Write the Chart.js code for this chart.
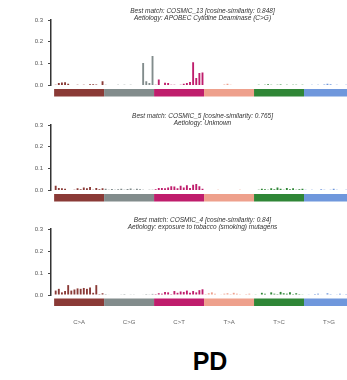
<!DOCTYPE html>
<html>
<head>
<meta charset="utf-8">
<title>PD signatures</title>
<script src="https://cdn.jsdelivr.net/npm/chart.js@4/dist/chart.umd.min.js"></script>
<style>
  html, body { margin: 0; padding: 0; background: #fff; }
  body { width: 347px; height: 380px; overflow: hidden; position: relative; font-family: "Liberation Sans", Arial, sans-serif; }
  canvas { position: absolute; left: 0; }
  #sampleName { position: absolute; left: 160px; width: 100px; top: 349px; text-align: center; font-weight: bold; font-size: 25px; line-height: 25px; color: #000; }
</style>
</head>
<body>
<canvas id="panel1" width="360" height="104" style="top:0px"></canvas>
<canvas id="panel2" width="360" height="104" style="top:105px"></canvas>
<canvas id="panel3" width="360" height="130" style="top:209px"></canvas>
<div id="sampleName">PD</div>
<script>
// substitution classes, 16 trinucleotide contexts each
const mutationTypes = ['C>A', 'C>G', 'C>T', 'T>A', 'T>C', 'T>G'];
const typeColors = ['#8a3a36', '#828c8c', '#bf1d6c', '#eea08c', '#2f8636', '#6f97dc'];
const yTicks = [0, 0.1, 0.2, 0.3];

// relative contribution per context, in order C>A .. T>G
const sig13Values = [
  0.003, 0.012, 0.014, 0.015, 0.008, 0.002, 0.000, 0.004, 0.000, 0.003, 0.000, 0.006, 0.006, 0.005, 0.002, 0.020,
  0.004, 0.000, 0.000, 0.000, 0.003, 0.000, 0.003, 0.000, 0.003, 0.000, 0.000, 0.000, 0.103, 0.020, 0.012, 0.135,
  0.004, 0.028, 0.002, 0.013, 0.012, 0.003, 0.004, 0.002, 0.003, 0.008, 0.012, 0.016, 0.107, 0.034, 0.057, 0.060,
  0.000, 0.000, 0.002, 0.000, 0.000, 0.000, 0.005, 0.008, 0.004, 0.000, 0.000, 0.000, 0.002, 0.000, 0.000, 0.000,
  0.000, 0.003, 0.000, 0.004, 0.006, 0.003, 0.000, 0.004, 0.005, 0.002, 0.004, 0.000, 0.003, 0.004, 0.000, 0.003,
  0.000, 0.002, 0.004, 0.000, 0.003, 0.000, 0.005, 0.008, 0.006, 0.000, 0.003, 0.000, 0.002, 0.004, 0.000, 0.003
];
const sig5Values = [
  0.022, 0.012, 0.010, 0.008, 0.002, 0.000, 0.004, 0.010, 0.006, 0.014, 0.010, 0.016, 0.004, 0.012, 0.006, 0.010,
  0.008, 0.004, 0.007, 0.003, 0.006, 0.008, 0.003, 0.007, 0.009, 0.004, 0.008, 0.006, 0.003, 0.002, 0.004, 0.003,
  0.006, 0.012, 0.012, 0.010, 0.014, 0.020, 0.018, 0.010, 0.022, 0.014, 0.024, 0.012, 0.026, 0.030, 0.020, 0.008,
  0.000, 0.002, 0.000, 0.000, 0.003, 0.000, 0.000, 0.002, 0.000, 0.000, 0.000, 0.003, 0.000, 0.000, 0.002, 0.000,
  0.002, 0.004, 0.008, 0.006, 0.003, 0.010, 0.006, 0.014, 0.008, 0.004, 0.012, 0.006, 0.010, 0.004, 0.006, 0.008,
  0.003, 0.002, 0.004, 0.000, 0.002, 0.006, 0.003, 0.000, 0.004, 0.008, 0.003, 0.002, 0.000, 0.003, 0.004, 0.002
];
const sig4Values = [
  0.020, 0.028, 0.012, 0.018, 0.045, 0.020, 0.025, 0.030, 0.028, 0.032, 0.028, 0.034, 0.010, 0.045, 0.004, 0.008,
  0.004, 0.002, 0.000, 0.000, 0.000, 0.003, 0.004, 0.000, 0.003, 0.003, 0.000, 0.000, 0.002, 0.004, 0.003, 0.005,
  0.004, 0.008, 0.006, 0.014, 0.012, 0.004, 0.018, 0.010, 0.016, 0.014, 0.020, 0.010, 0.018, 0.012, 0.022, 0.026,
  0.004, 0.008, 0.012, 0.006, 0.000, 0.003, 0.006, 0.008, 0.004, 0.010, 0.006, 0.003, 0.000, 0.004, 0.006, 0.002,
  0.003, 0.000, 0.010, 0.006, 0.000, 0.012, 0.006, 0.004, 0.014, 0.008, 0.006, 0.012, 0.004, 0.008, 0.004, 0.003,
  0.000, 0.003, 0.000, 0.004, 0.006, 0.002, 0.000, 0.008, 0.004, 0.000, 0.003, 0.006, 0.002, 0.004, 0.000, 0.003
];

const sig13Title = ['Best match: COSMIC_13 [cosine-similarity: 0.848]', 'Aetiology: APOBEC Cytidine Deaminase (C>G)'];
const sig5Title = ['Best match: COSMIC_5 [cosine-similarity: 0.765]', 'Aetiology: Unknown'];
const sig4Title = ['Best match: COSMIC_4 [cosine-similarity: 0.84]', 'Aetiology: exposure to tobacco (smoking) mutagens'];

const FONT = '"Liberation Sans", Arial, sans-serif';

// colour strip under the bars, titles above, class names under the last panel
const stripPlugin = {
    id: 'strip',
    afterDatasetsDraw(chart, args, opts) {
        const ctx = chart.ctx;
        const area = chart.chartArea;
        const x = chart.scales.x;
        ctx.save();
        mutationTypes.forEach((t, k) => {
            const x0 = x.getPixelForValue(k * 16 - 0.5);
            const x1 = x.getPixelForValue(k * 16 + 15.5);
            ctx.fillStyle = typeColors[k];
            ctx.fillRect(x0, area.bottom + 3.5, x1 - x0, 7.5);
            if (opts.showLabels) {
                ctx.fillStyle = '#666';
                ctx.font = '6px ' + FONT;
                ctx.textAlign = 'center';
                ctx.textBaseline = 'middle';
                ctx.fillText(t, (x0 + x1) / 2, area.bottom + 27);
            }
        });
        const cx = (area.left + area.right) / 2;
        ctx.fillStyle = '#333';
        ctx.font = 'italic 6.5px ' + FONT;
        ctx.textAlign = 'center';
        ctx.textBaseline = 'middle';
        ctx.fillText(opts.title[0], cx, area.top - 9);
        ctx.fillText(opts.title[1], cx, area.top - 1.5);
        ctx.restore();
    }
};

function drawPanel(id, values, title, bottomPad, showLabels) {
    const ctx = document.getElementById(id).getContext('2d');
    new Chart(ctx, {
        type: 'bar',
        data: {
            datasets: [{
                data: values.map((v, i) => ({ x: i, y: v })),
                backgroundColor: values.map((v, i) => typeColors[Math.floor(i / 16)]),
                barPercentage: 0.6,
                categoryPercentage: 1,
                borderWidth: 0
            }]
        },
        options: {
            responsive: false,
            animation: false,
            layout: { padding: { top: 20, bottom: bottomPad, left: 0, right: 6 } },
            plugins: {
                legend: { display: false },
                tooltip: { enabled: true },
                strip: { title: title, showLabels: showLabels }
            },
            scales: {
                x: { type: 'linear', min: -1.5, max: 95.5, offset: false, display: false },
                y: {
                    min: 0,
                    max: 0.3,
                    afterFit(scale) { scale.width = 51; },
                    afterBuildTicks(scale) { scale.ticks = yTicks.map(v => ({ value: v })); },
                    border: { display: true, color: '#333', width: 1.5 },
                    grid: { drawOnChartArea: false, drawTicks: true, tickLength: 3, color: '#444' },
                    ticks: {
                        padding: 5,
                        color: '#555',
                        font: { size: 6, family: FONT },
                        callback: v => v.toFixed(1)
                    }
                }
            }
        },
        plugins: [stripPlugin]
    });
}

drawPanel('panel1', sig13Values, sig13Title, 18.5, false);
drawPanel('panel2', sig5Values, sig5Title, 18.5, false);
drawPanel('panel3', sig4Values, sig4Title, 44, true);
</script>
</body>
</html>
